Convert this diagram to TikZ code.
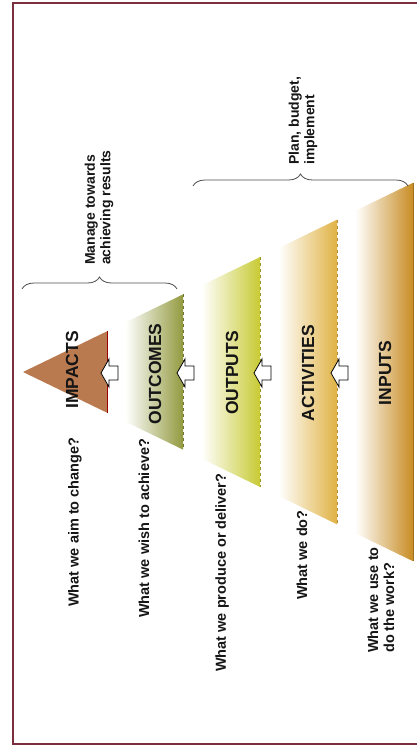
\documentclass[tikz,border=0pt]{standalone}
\usepackage{fontspec}
\setmainfont{Liberation Sans}
\usetikzlibrary{decorations.pathreplacing}
\definecolor{impcol}{HTML}{B97A50}
\definecolor{outccol}{HTML}{939A40}
\definecolor{outpcol}{HTML}{C8CA34}
\definecolor{actcol}{HTML}{E0B244}
\definecolor{inpcol}{HTML}{C88C24}
\definecolor{framecol}{HTML}{7A2E3E}
\definecolor{txtcol}{HTML}{151515}
\colorlet{bandc}{inpcol}
\pgfdeclarehorizontalshading[bandc]{bandfade}{100bp}{color(0bp)=(white); color(25bp)=(white); color(37bp)=(white); color(56bp)=(bandc!50); color(75bp)=(bandc); color(100bp)=(bandc)}
\begin{document}
\begin{tikzpicture}[x=1pt,y=-1pt,
  lbl/.style={rotate=90, font=\bfseries\fontsize{17.5}{20}\selectfont, inner sep=0, text=txtcol},
  qtext/.style={rotate=90, font=\bfseries\fontsize{14.5}{16}\selectfont, inner sep=0, align=left, text=txtcol},
  bracetext/.style={rotate=90, font=\bfseries\fontsize{14}{15.5}\selectfont, inner sep=0, align=left, text=txtcol},
  bracestyle/.style={draw=black!70, line width=0.8pt, decorate, decoration={brace, amplitude=12pt}},
  blockarrow/.pic={\draw[line width=0.8pt, fill=white, line join=miter] (0,0) -- (8,-14) -- (8,-7) -- (17,-7) -- (17,7) -- (8,7) -- (8,14) -- cycle;},
  edge/.style={line width=0.7pt}
]
\useasboundingbox (0,0) rectangle (417,747);
% frame
\draw[framecol, line width=1.3pt] (420,3) -- (13,3) -- (13,744) -- (420,744);

% bands (apex at (23,372), half height = 0.485*(x-23))
\colorlet{bandc}{inpcol}
\shade[shading=bandfade]
  (337,219.7) -- (413,182.8) -- (413,561.2) -- (337,524.3) -- cycle;
\draw[edge, inpcol!80!black] (413,182.8) -- (413,561.2);
\colorlet{bandc}{actcol}
\shade[shading=bandfade]
  (260,257.1) -- (337,219.7) -- (337,524.3) -- (260,486.9) -- cycle;
\draw[edge, actcol!80!black, dashed] (337,219.7) -- (337,524.3);
\colorlet{bandc}{outpcol}
\shade[shading=bandfade]
  (183,294.4) -- (260,257.1) -- (260,486.9) -- (183,449.6) -- cycle;
\draw[edge, outpcol!75!black, dashed] (260,257.1) -- (260,486.9);
\colorlet{bandc}{outccol}
\shade[shading=bandfade]
  (107,331.3) -- (183,294.4) -- (183,449.6) -- (107,412.7) -- cycle;
\draw[edge, outccol!75!black, dashed] (183,294.4) -- (183,449.6);
\fill[impcol] (23,372) -- (107,331.3) -- (107,412.7) -- cycle;
\draw[edge, red!60!black] (107,331.3) -- (107,412.7);

% arrows
\coordinate (a1) at (101,373);
\coordinate (a2) at (177,373);
\coordinate (a3) at (254,373);
\coordinate (a4) at (331,373);
\pic at (a1) {blockarrow};
\pic at (a2) {blockarrow};
\pic at (a3) {blockarrow};
\pic at (a4) {blockarrow};

% labels
\node[lbl] (impacts) at (72,370) {IMPACTS};
\node[lbl] (outcomes) at (155,374) {OUTCOMES};
\node[lbl] (outputs) at (232,373) {OUTPUTS};
\node[lbl] (activities) at (308,373) {ACTIVITIES};
\node[lbl] (inputs) at (385,373) {INPUTS};

% questions
\node[qtext, anchor=west] (q1) at (75,607) {What we aim to change?};
\node[qtext, anchor=west] (q2) at (144,618) {What we wish to achieve?};
\node[qtext, anchor=west] (q3) at (222,672) {What we produce or deliver?};
\node[qtext, anchor=west] (q4) at (302,600) {What we do?};
\node[qtext, anchor=west] (q5) at (381,653) {What we use to\\do the work?};

% braces
\coordinate (b1s) at (22,289);
\coordinate (b1e) at (177,289);
\draw[bracestyle] (b1s) -- (b1e);
\node[bracetext, anchor=west] (manage) at (99,265) {Manage towards\\achieving results};
\coordinate (b2s) at (193,186);
\coordinate (b2e) at (408,186);
\draw[bracestyle] (b2s) -- (b2e);
\node[bracetext, anchor=west] (plan) at (303,165) {Plan, budget,\\implement};
\end{tikzpicture}
\end{document}
